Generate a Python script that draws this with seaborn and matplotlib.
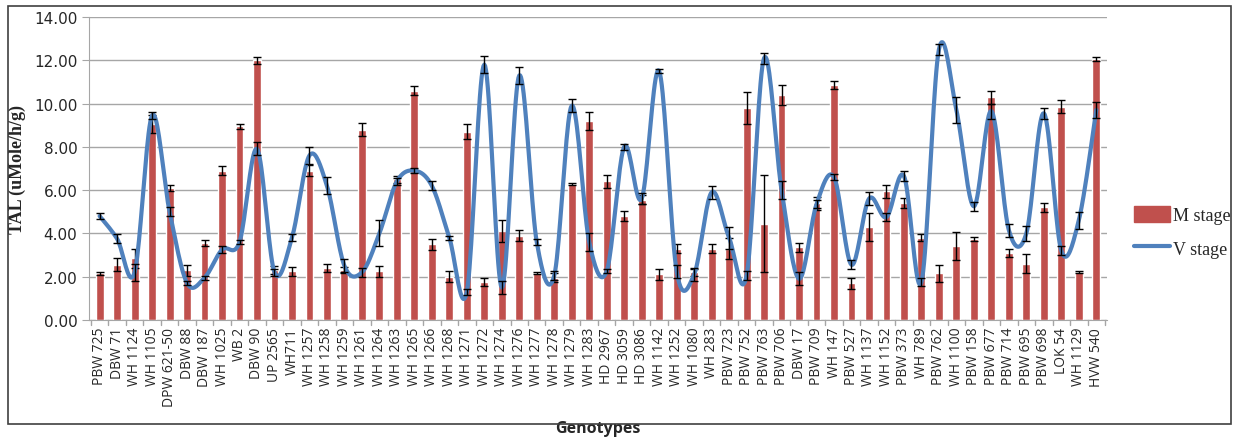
import numpy as np
import pandas as pd
import matplotlib
matplotlib.use("Agg")
import matplotlib.pyplot as plt
import seaborn as sns
from matplotlib.lines import Line2D
from matplotlib.patches import Patch, Rectangle

# genotypes on the x axis
genotypes = ["PBW 725", "DBW 71", "WH 1124", "WH 1105", "DPW 621-50", "DBW 88", "DBW 187",
             "WH 1025", "WB 2", "DBW 90", "UP 2565", "WH711", "WH 1257", "WH 1258", "WH 1259",
             "WH 1261", "WH 1264", "WH 1263", "WH 1265", "WH 1266", "WH 1268", "WH 1271",
             "WH 1272", "WH 1274", "WH 1276", "WH 1277", "WH 1278", "WH 1279", "WH 1283",
             "HD 2967", "HD 3059", "HD 3086", "WH 1142", "WH 1252", "WH 1080", "WH 283",
             "PBW 723", "PBW 752", "PBW 763", "PBW 706", "DBW 17", "PBW 709", "WH 147",
             "PBW 527", "WH 1137", "WH 1152", "PBW 373", "WH 789", "PBW 762", "WH 1100",
             "PBW 158", "PBW 677", "PBW 714", "PBW 695", "PBW 698", "LOK 54", "WH 1129", "HVW 540"]

# M stage (bars)
m_stage = [2.15, 2.55, 2.85, 9.05, 6.1, 2.3, 3.55, 6.9, 8.95, 12.0, 2.3, 2.25, 6.9, 2.4, 2.3,
           8.8, 2.25, 6.5, 10.6, 3.5, 2.0, 8.7, 1.75, 4.1, 3.9, 2.15, 1.95, 6.3, 9.2,
           6.4, 4.8, 5.55, 2.1, 3.3, 2.2, 3.3, 3.3, 9.8, 4.45, 10.4, 3.35, 5.4, 10.85,
           1.7, 4.3, 5.95, 5.4, 3.8, 2.15, 3.4, 3.75, 10.3, 3.1, 2.6, 5.2, 9.85, 2.2, 12.05]
m_err = [0.08, 0.3, 0.45, 0.4, 0.12, 0.25, 0.15, 0.2, 0.12, 0.15, 0.2, 0.2, 0.25, 0.2, 0.15,
         0.3, 0.25, 0.15, 0.2, 0.25, 0.25, 0.35, 0.2, 0.5, 0.25, 0.05, 0.2, 0.05, 0.4,
         0.3, 0.25, 0.2, 0.25, 0.2, 0.15, 0.2, 0.5, 0.75, 2.25, 0.45, 0.2, 0.3, 0.2,
         0.25, 0.65, 0.3, 0.25, 0.15, 0.4, 0.65, 0.1, 0.3, 0.2, 0.45, 0.2, 0.3, 0.05, 0.1]

# V stage (smoothed line)
v_stage = [4.8, 3.75, 2.2, 9.45, 5.0, 1.7, 1.95, 3.25, 3.6, 7.9, 2.2, 3.8, 7.6, 6.2, 2.5,
           2.2, 4.0, 6.4, 6.9, 6.2, 3.8, 1.3, 11.8, 1.5, 11.3, 3.6, 2.05, 9.9, 3.6,
           2.25, 8.0, 5.6, 11.5, 2.25, 2.1, 5.9, 3.8, 2.05, 12.1, 6.0, 1.9, 5.35, 6.6,
           2.55, 5.6, 4.75, 6.65, 1.75, 12.5, 9.7, 5.25, 9.65, 4.15, 4.0, 9.55, 3.2, 4.6, 9.7]
v_err = [0.15, 0.2, 0.4, 0.15, 0.2, 0.1, 0.1, 0.15, 0.1, 0.3, 0.15, 0.15, 0.4, 0.4, 0.3,
         0.2, 0.6, 0.15, 0.1, 0.2, 0.1, 0.15, 0.4, 0.3, 0.4, 0.15, 0.2, 0.3, 0.4,
         0.1, 0.15, 0.25, 0.1, 0.3, 0.3, 0.3, 0.5, 0.2, 0.25, 0.4, 0.3, 0.2, 0.15,
         0.2, 0.3, 0.2, 0.25, 0.2, 0.25, 0.6, 0.2, 0.35, 0.3, 0.35, 0.25, 0.2, 0.4, 0.35]

df = pd.DataFrame({"Genotype": genotypes, "M": m_stage, "Merr": m_err,
                   "V": v_stage, "Verr": v_err})

red = "#C0504D"
blue = "#4F81BD"


def smooth_curve(x, y, n=20):
    # excel style smoothed line (bezier through each point)
    x = np.asarray(x, float)
    y = np.asarray(y, float)
    px = np.concatenate([[x[0]], x, [x[-1]]])
    py = np.concatenate([[y[0]], y, [y[-1]]])
    xs, ys = [], []
    t = np.linspace(0, 1, n, endpoint=False)
    for i in range(1, len(px) - 2):
        p0, p1, p2, p3 = (np.array([px[j], py[j]]) for j in (i - 1, i, i + 1, i + 2))
        c1 = p1 + (p2 - p0) / 6
        c2 = p2 - (p3 - p1) / 6
        pts = ((1 - t) ** 3)[:, None] * p1 + (3 * (1 - t) ** 2 * t)[:, None] * c1 \
            + (3 * (1 - t) * t ** 2)[:, None] * c2 + (t ** 3)[:, None] * p2
        xs.extend(pts[:, 0])
        ys.extend(pts[:, 1])
    xs.append(x[-1])
    ys.append(y[-1])
    return np.array(xs), np.array(ys)


sns.set_style("white")
fig = plt.figure(figsize=(12.38, 4.39), dpi=100)
ax = fig.add_axes([0.072, 0.269, 0.822, 0.69])

sns.barplot(data=df, x="Genotype", y="M", color=red, width=0.45, saturation=1,
            errorbar=None, ax=ax, zorder=2)
pos = np.arange(len(genotypes))
ax.errorbar(pos, df["M"], yerr=df["Merr"], fmt="none", ecolor="black",
            elinewidth=1, capsize=3, capthick=1, zorder=3)

sx, sy = smooth_curve(pos, df["V"])
ax.plot(sx, sy, color=blue, lw=3, zorder=4, solid_capstyle="round")
ax.errorbar(pos, df["V"], yerr=df["Verr"], fmt="none", ecolor="black",
            elinewidth=1, capsize=3, capthick=1, zorder=5)

ax.set_ylim(0, 14)
ax.set_xlim(-0.6, len(genotypes) - 0.4)
ax.set_yticks(np.arange(0, 15, 2))
ax.set_yticklabels([f"{v:.2f}" for v in np.arange(0, 15, 2)], fontsize=11,
                   family="DejaVu Sans")
ax.yaxis.grid(True, color="#A6A6A6", lw=1)
ax.set_axisbelow(True)
for s in ["top", "right"]:
    ax.spines[s].set_visible(False)
ax.spines["left"].set_color("#A6A6A6")
ax.spines["bottom"].set_color("#A6A6A6")
ax.tick_params(axis="y", length=5, color="#A6A6A6", direction="out", left=True)
ax.tick_params(axis="x", length=0, pad=5)
ax.set_xticks(pos)
ax.set_xticklabels(genotypes, rotation=90, fontsize=10, family="Open Sans")
# category boundary ticks like excel
for b in np.arange(-0.5, len(genotypes), 1):
    ax.plot([b, b], [0, -0.22], color="#A6A6A6", lw=1, clip_on=False, zorder=1)

ax.set_xlabel("Genotypes", fontsize=11.5, fontweight="bold", family="Open Sans", labelpad=10)
ax.set_ylabel("TAL (uMole/h/g)", fontsize=13, fontweight="bold",
              family="Liberation Serif", labelpad=6)

handles = [Patch(color=red), Line2D([0], [0], color=blue, lw=3)]
fig.legend(handles, ["M stage", "V stage"], loc="center left",
           bbox_to_anchor=(0.916, 0.47), frameon=False, borderpad=0, borderaxespad=0,
           prop={"family": "Liberation Serif", "size": 13},
           handlelength=2.0, handleheight=1.0, handletextpad=0.15, labelspacing=0.85)

fig.patches.append(Rectangle((0.0065, 0.032), 0.988, 0.953, transform=fig.transFigure,
                             fill=False, edgecolor="#404040", lw=1.2))

fig.savefig("out.png", dpi=100)
